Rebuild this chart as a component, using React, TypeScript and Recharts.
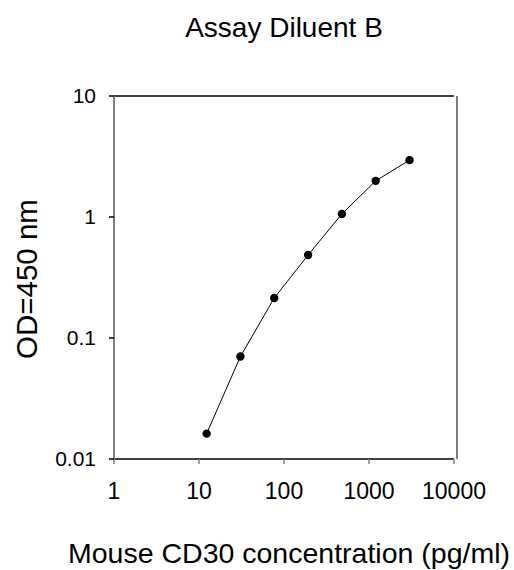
import { ReferenceLine, Scatter, ScatterChart, XAxis, YAxis } from "recharts";

const concentration = [12.3, 30.7, 76.8, 192, 480, 1200, 3000];
const od = [0.0162, 0.0703, 0.214, 0.485, 1.06, 1.99, 2.95];
const xTicks = [1, 10, 100, 1000, 10000];
const yTicks = [0.01, 0.1, 1, 10];

const data = concentration.map((c, i) => ({ c, od: od[i] }));

const font = "'Liberation Sans', Arial, sans-serif";

const Dot = (props: any) => <circle cx={props.cx} cy={props.cy} r={4.2} fill="#000" />;

export default function App() {
  return (
    <div style={{ position: "absolute", left: 0, top: 0, width: 514, height: 570, background: "#fff", fontFamily: font }}>
      <ScatterChart width={514} height={570} margin={{ top: 96, right: 50, bottom: 51, left: 54 }}>
        <XAxis
          type="number"
          dataKey="c"
          scale="log"
          domain={[1, 10000]}
          ticks={xTicks}
          allowDataOverflow
          height={60}
          axisLine={{ stroke: "#000", strokeWidth: 1.5 }}
          tickLine={{ stroke: "#808080", strokeWidth: 1.5 }}
          tickSize={5}
          tickMargin={19}
          tick={{ fill: "#000", fontSize: 23, fontFamily: font }}
        />
        <YAxis
          type="number"
          dataKey="od"
          scale="log"
          domain={[0.01, 10]}
          ticks={yTicks}
          allowDataOverflow
          width={60}
          axisLine={{ stroke: "#808080", strokeWidth: 2 }}
          tickLine={{ stroke: "#000", strokeWidth: 1.5 }}
          tickSize={5}
          tickMargin={13}
          tick={{ fill: "#000", fontSize: 21, fontFamily: font }}
        />
        <YAxis
          yAxisId="r"
          orientation="right"
          type="number"
          scale="log"
          domain={[0.01, 10]}
          ticks={yTicks}
          allowDataOverflow
          width={10}
          axisLine={{ stroke: "#808080", strokeWidth: 2, transform: "translate(3,0)" }}
          tickLine={false}
          tick={false}
        />
        <ReferenceLine y={10} stroke="#000" strokeWidth={1.5} />
        <Scatter
          data={data}
          fill="#000"
          line={{ stroke: "#000", strokeWidth: 1 }}
          shape={<Dot />}
          isAnimationActive={false}
        />
      </ScatterChart>
      <svg width={514} height={570} style={{ position: "absolute", left: 0, top: 0, pointerEvents: "none" }}>
        <text x={284} y={37} textAnchor="middle" fontSize={28} fontFamily={font} fill="#000">
          Assay Diluent B
        </text>
        <text x={289} y={563} textAnchor="middle" fontSize={28.5} fontFamily={font} fill="#000">
          Mouse CD30 concentration (pg/ml)
        </text>
        <text
          x={37}
          y={279}
          textAnchor="middle"
          fontSize={29.5}
          fontFamily={font}
          fill="#000"
          transform="rotate(-90 37 279)"
        >
          OD=450 nm
        </text>
      </svg>
    </div>
  );
}
